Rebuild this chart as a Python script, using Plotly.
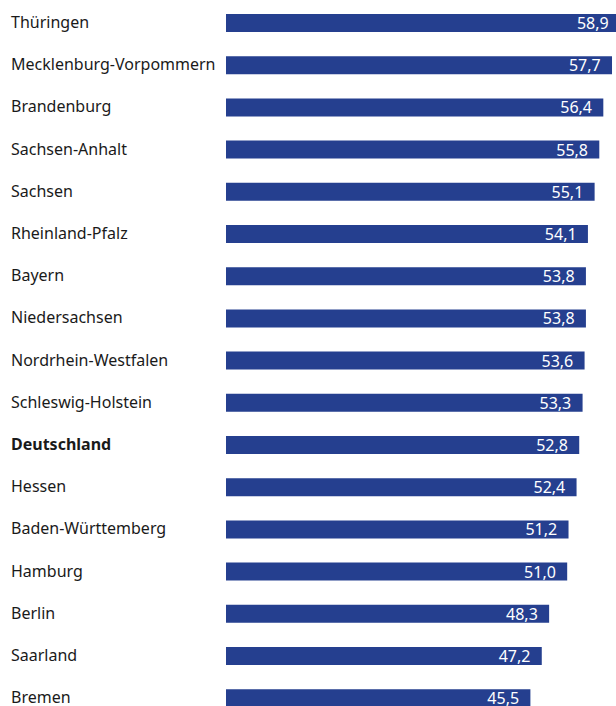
import plotly.graph_objects as go

# Federal states, top to bottom, and their values
states = [
    "Thüringen", "Mecklenburg-Vorpommern", "Brandenburg", "Sachsen-Anhalt",
    "Sachsen", "Rheinland-Pfalz", "Bayern", "Niedersachsen",
    "Nordrhein-Westfalen", "Schleswig-Holstein", "Deutschland", "Hessen",
    "Baden-Württemberg", "Hamburg", "Berlin", "Saarland", "Bremen",
]
values = [
    58.9, 57.7, 56.4, 55.8, 55.1, 54.1, 53.8, 53.8,
    53.6, 53.3, 52.8, 52.4, 51.2, 51.0, 48.3, 47.2, 45.5,
]
highlight = "Deutschland"

BAR_COLOR = "#253f8f"
FONT = "Noto Sans"
W, H = 616, 706
LEFT = 226

fig = go.Figure(
    go.Bar(
        x=values,
        y=states,
        orientation="h",
        marker=dict(color=BAR_COLOR, line=dict(width=0)),
        texttemplate="%{x:.1f}\u00a0\u00a0",
        textposition="inside",
        insidetextanchor="end",
        constraintext="none",
        textfont=dict(color="white", size=16, family=FONT),
        hoverinfo="skip",
    )
)

# State names, left aligned in the margin
for s in states:
    label = f"<b>{s}</b>" if s == highlight else s
    fig.add_annotation(
        x=9 / W, xref="paper", xanchor="left",
        y=s, yref="y", yanchor="middle", yshift=1,
        text=label, showarrow=False,
        font=dict(size=16, color="#1a1a1a", family=FONT),
    )

fig.update_layout(
    width=W, height=H,
    margin=dict(l=0, r=0, t=0, b=0),
    paper_bgcolor="white", plot_bgcolor="white",
    separators=",.",
    bargap=0.573,
    showlegend=False,
    xaxis=dict(
        domain=[LEFT / W, 1], range=[0, (W - LEFT) / 6.69],
        visible=False, fixedrange=True,
    ),
    yaxis=dict(
        type="category", range=[16.185, -0.545],
        visible=False, fixedrange=True,
    ),
)

fig.write_html("out.html", config={"displayModeBar": False})
